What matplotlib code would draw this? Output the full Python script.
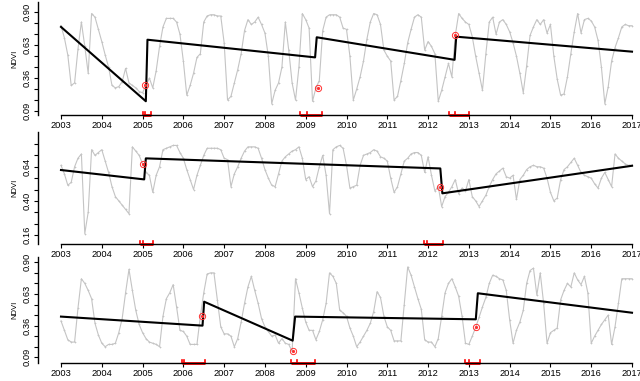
import numpy as np
import matplotlib.pyplot as plt

plt.rcParams["font.family"] = ["Liberation Sans", "DejaVu Sans"]

# monthly NDVI, one row per year 2003..2016, plus Jan 2017
ndvi_1 = [
    [0.79, 0.69, 0.55, 0.30, 0.32, 0.60, 0.82, 0.62, 0.40, 0.89, 0.86, 0.76],
    [0.66, 0.55, 0.45, 0.30, 0.28, 0.29, 0.33, 0.44, 0.32, 0.30, 0.28, 0.25],
    [0.24, 0.30, 0.36, 0.28, 0.42, 0.62, 0.78, 0.85, 0.85, 0.85, 0.82, 0.72],
    [0.50, 0.22, 0.30, 0.40, 0.53, 0.56, 0.82, 0.87, 0.88, 0.88, 0.87, 0.87],
    [0.65, 0.18, 0.21, 0.32, 0.43, 0.56, 0.75, 0.84, 0.80, 0.82, 0.86, 0.80],
    [0.73, 0.54, 0.15, 0.26, 0.32, 0.45, 0.82, 0.59, 0.32, 0.18, 0.45, 0.89],
    [0.84, 0.77, 0.17, 0.28, 0.34, 0.75, 0.86, 0.88, 0.88, 0.88, 0.86, 0.77],
    [0.76, 0.54, 0.18, 0.27, 0.37, 0.50, 0.68, 0.82, 0.89, 0.88, 0.80, 0.59],
    [0.54, 0.50, 0.18, 0.21, 0.34, 0.48, 0.65, 0.76, 0.86, 0.88, 0.86, 0.59],
    [0.66, 0.62, 0.56, 0.17, 0.26, 0.37, 0.48, 0.37, 0.71, 0.89, 0.85, 0.82],
    [0.80, 0.70, 0.54, 0.40, 0.26, 0.56, 0.82, 0.86, 0.72, 0.82, 0.84, 0.80],
    [0.74, 0.65, 0.54, 0.40, 0.24, 0.46, 0.71, 0.78, 0.84, 0.80, 0.84, 0.73],
    [0.80, 0.54, 0.35, 0.22, 0.23, 0.37, 0.56, 0.74, 0.89, 0.73, 0.84, 0.85],
    [0.83, 0.78, 0.67, 0.45, 0.15, 0.29, 0.50, 0.61, 0.69, 0.78, 0.80, 0.79],
    [0.79],
]
ndvi_2 = [
    [0.65, 0.59, 0.51, 0.53, 0.64, 0.70, 0.73, 0.17, 0.32, 0.76, 0.72, 0.74],
    [0.76, 0.68, 0.60, 0.50, 0.43, 0.40, 0.37, 0.34, 0.31, 0.78, 0.75, 0.72],
    [0.66, 0.60, 0.58, 0.46, 0.58, 0.64, 0.76, 0.77, 0.78, 0.79, 0.79, 0.74],
    [0.70, 0.62, 0.55, 0.48, 0.58, 0.65, 0.72, 0.77, 0.77, 0.77, 0.77, 0.76],
    [0.70, 0.69, 0.50, 0.59, 0.64, 0.70, 0.75, 0.78, 0.78, 0.78, 0.77, 0.70],
    [0.62, 0.56, 0.51, 0.50, 0.59, 0.68, 0.71, 0.73, 0.75, 0.76, 0.78, 0.70],
    [0.55, 0.57, 0.50, 0.54, 0.64, 0.72, 0.58, 0.31, 0.76, 0.78, 0.79, 0.77],
    [0.65, 0.49, 0.50, 0.51, 0.65, 0.72, 0.73, 0.74, 0.76, 0.75, 0.71, 0.70],
    [0.68, 0.56, 0.46, 0.50, 0.59, 0.68, 0.70, 0.73, 0.74, 0.74, 0.72, 0.60],
    [0.71, 0.58, 0.47, 0.50, 0.36, 0.43, 0.46, 0.50, 0.55, 0.45, 0.49, 0.47],
    [0.55, 0.43, 0.40, 0.36, 0.40, 0.44, 0.50, 0.55, 0.59, 0.61, 0.63, 0.57],
    [0.56, 0.58, 0.41, 0.55, 0.58, 0.62, 0.64, 0.65, 0.64, 0.64, 0.63, 0.56],
    [0.46, 0.40, 0.42, 0.55, 0.62, 0.64, 0.67, 0.70, 0.65, 0.60, 0.58, 0.57],
    [0.56, 0.52, 0.49, 0.56, 0.60, 0.55, 0.50, 0.73, 0.70, 0.68, 0.66, 0.65],
    [0.65],
]
ndvi_3 = [
    [0.40, 0.32, 0.24, 0.22, 0.22, 0.51, 0.76, 0.72, 0.66, 0.59, 0.38, 0.28],
    [0.21, 0.18, 0.20, 0.20, 0.21, 0.30, 0.42, 0.64, 0.84, 0.66, 0.49, 0.37],
    [0.30, 0.25, 0.22, 0.21, 0.20, 0.18, 0.44, 0.59, 0.64, 0.71, 0.52, 0.32],
    [0.31, 0.27, 0.20, 0.20, 0.20, 0.44, 0.64, 0.80, 0.81, 0.81, 0.58, 0.35],
    [0.29, 0.29, 0.27, 0.18, 0.25, 0.39, 0.55, 0.69, 0.78, 0.66, 0.55, 0.42],
    [0.35, 0.31, 0.27, 0.28, 0.21, 0.25, 0.21, 0.20, 0.14, 0.76, 0.64, 0.51],
    [0.39, 0.32, 0.32, 0.24, 0.31, 0.41, 0.55, 0.81, 0.78, 0.72, 0.49, 0.47],
    [0.44, 0.34, 0.27, 0.18, 0.22, 0.27, 0.32, 0.38, 0.48, 0.65, 0.60, 0.44],
    [0.35, 0.32, 0.23, 0.23, 0.23, 0.54, 0.86, 0.79, 0.69, 0.59, 0.50, 0.24],
    [0.22, 0.22, 0.18, 0.25, 0.44, 0.64, 0.72, 0.76, 0.69, 0.61, 0.44, 0.21],
    [0.20, 0.27, 0.345, 0.43, 0.52, 0.60, 0.72, 0.79, 0.78, 0.76, 0.75, 0.66],
    [0.41, 0.21, 0.32, 0.39, 0.49, 0.72, 0.83, 0.85, 0.62, 0.81, 0.55, 0.21],
    [0.30, 0.32, 0.34, 0.58, 0.66, 0.72, 0.69, 0.81, 0.75, 0.71, 0.78, 0.64],
    [0.21, 0.27, 0.32, 0.37, 0.41, 0.45, 0.20, 0.35, 0.55, 0.76, 0.76, 0.76],
    [0.76],
]

# fitted trend (piecewise), knots
trend_t_1 = [2003.0, 2005.08, 2005.12, 2009.23, 2009.27, 2012.65, 2012.69, 2017.0]
trend_v_1 = [0.78, 0.17, 0.675, 0.53, 0.695, 0.51, 0.70, 0.577]
trend_t_2 = [2003.0, 2005.04, 2005.08, 2012.30, 2012.35, 2017.0]
trend_v_2 = [0.617, 0.551, 0.699, 0.628, 0.453, 0.647]
trend_t_3 = [2003.0, 2006.47, 2006.51, 2008.68, 2008.74, 2013.17, 2013.22, 2017.0]
trend_v_3 = [0.437, 0.36, 0.564, 0.232, 0.437, 0.414, 0.636, 0.47]

# breakpoints (observation marked) and their confidence intervals
brk_t_1 = [2005.07, 2009.29, 2012.66]
brk_v_1 = [0.30, 0.28, 0.71]
ci_1 = [(2005.02, 2005.07, 2005.20), (2008.86, 2009.02, 2009.41), (2012.52, 2012.66, 2013.00)]
brk_t_2 = [2005.02, 2012.29]
brk_v_2 = [0.66, 0.50]
ci_2 = [(2004.94, 2005.02, 2005.26), (2011.90, 2011.98, 2012.36)]
brk_t_3 = [2006.46, 2008.68, 2013.17]
brk_v_3 = [0.44, 0.14, 0.345]
ci_3 = [(2005.96, 2006.02, 2006.53), (2008.65, 2008.78, 2009.22), (2012.90, 2013.00, 2013.27)]

years = list(range(2003, 2018))
yticks_a = [0.09, 0.18, 0.27, 0.36, 0.45, 0.54, 0.63, 0.72, 0.81, 0.90]
ylabels_a = ["0.09", "", "", "0.36", "", "", "0.63", "", "", "0.90"]
yticks_b = [0.16, 0.24, 0.32, 0.40, 0.48, 0.56, 0.64, 0.72, 0.80]
ylabels_b = ["0.16", "", "", "0.40", "", "", "0.64", "", ""]

panels = [
    (ndvi_1, trend_t_1, trend_v_1, brk_t_1, brk_v_1, ci_1, yticks_a, ylabels_a),
    (ndvi_2, trend_t_2, trend_v_2, brk_t_2, brk_v_2, ci_2, yticks_b, ylabels_b),
    (ndvi_3, trend_t_3, trend_v_3, brk_t_3, brk_v_3, ci_3, yticks_a, ylabels_a),
]

# pixel layout: (axis bottom px, axis top px, ref value 1, px 1, ref value 2, px 2)
layout = [
    (115.0, 2.0, 0.90, 12.3, 0.09, 111.0),
    (244.0, 132.0, 0.80, 144.0, 0.16, 235.0),
    (362.7, 256.7, 0.90, 262.3, 0.09, 357.3),
]

W, H = 640, 381
fig = plt.figure(figsize=(W / 100, H / 100), dpi=100)
x_left, x_right = 38.0, 655.0
xlim = (2003 - 23.0 / 40.8, 2017 + 23.0 / 40.8)

for (ndvi, tt, tv, bt, bv, ci, yt, yl), (pb, pt, v1, p1, v2, p2) in zip(panels, layout):
    ax = fig.add_axes([x_left / W, (H - pb) / H, (x_right - x_left) / W, (pb - pt) / H])
    vals = np.concatenate([np.array(r, dtype=float) for r in ndvi])
    t = 2003 + np.arange(len(vals)) / 12.0
    ax.plot(t, vals, color="#c4c4c4", lw=0.8, marker="+", ms=2.0, mew=0.5)
    ax.plot(tt, tv, color="black", lw=1.5)
    ax.plot(bt, bv, "o", mfc="none", mec="#ff3030", ms=4.5, mew=0.7)
    ax.plot(bt, bv, "o", color="#ff3030", ms=1.3)

    per_px = (v1 - v2) / (p2 - p1)
    ax.set_xlim(*xlim)
    ax.set_ylim(v2 - (pb - p2) * per_px, v1 + (p1 - pt) * per_px)

    ybase = v2 - (pb - p2) * per_px
    tick_h = 3.0 * per_px
    for lo, mid, hi in ci:
        ax.plot([lo, hi], [ybase, ybase], color="red", lw=2.0, clip_on=False, solid_capstyle="butt")
        for xx in (lo, mid, hi):
            ax.plot([xx, xx], [ybase, ybase + tick_h], color="red", lw=1.2, clip_on=False)

    for s in ("top", "right"):
        ax.spines[s].set_visible(False)
    ax.spines["bottom"].set_bounds(2003, 2017)
    ax.spines["bottom"].set_linewidth(1.0)
    ax.spines["left"].set_linewidth(1.0)
    ax.set_xticks(years)
    ax.set_xticklabels([str(y) for y in years])
    ax.set_yticks(yt)
    ax.set_yticklabels(yl, rotation=90, va="center")
    ax.tick_params(axis="both", length=3, width=0.8, labelsize=6.7, pad=1.5)
    ax.set_ylabel("NDVI", fontsize=5.5, labelpad=3)

fig.savefig("out.png", dpi=100)
